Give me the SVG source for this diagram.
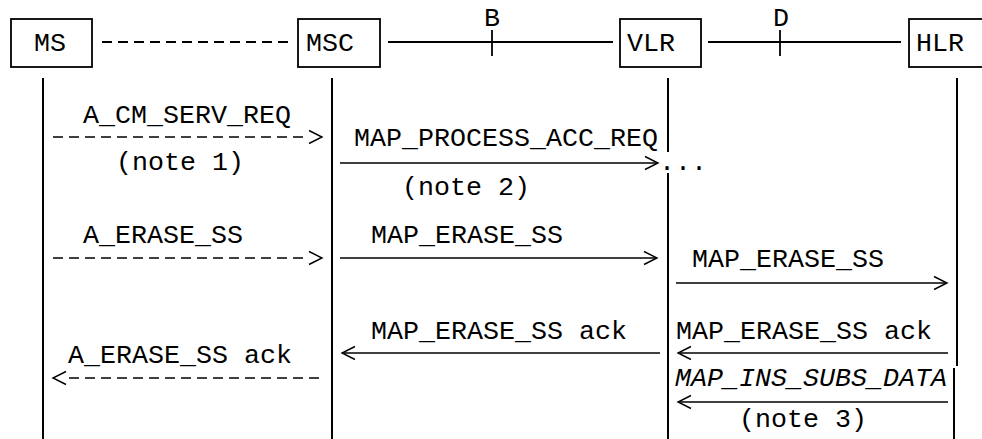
<svg xmlns="http://www.w3.org/2000/svg" width="982" height="439" viewBox="0 0 982 439">
<style>
  .bg { fill: #ffffff; }
  .box { fill: #ffffff; stroke: #000; stroke-width: 1.8; }
  .t { font-family: "Liberation Mono", "Courier New", monospace; font-size: 26.67px; fill: #000; }
  .it { font-style: italic; }
  .mid { text-anchor: middle; }
  .life { stroke: #000; stroke-width: 2; fill: none; }
  .iface { stroke: #000; stroke-width: 1.8; fill: none; }
  .dash { stroke-dasharray: 10 6; }
  .msg { stroke: #000; stroke-width: 1.6; fill: none; }
  .head { stroke: #000; stroke-width: 1.4; fill: none; }
</style>
<rect class="bg" x="0" y="0" width="982" height="439"/>

<g id="lifelines">
  <line class="life" x1="43" y1="78" x2="43" y2="439"/>
  <line class="life" x1="332" y1="78" x2="332" y2="439"/>
  <line class="life" x1="668" y1="78" x2="668" y2="152"/>
  <line class="life" x1="668" y1="173" x2="668" y2="439"/>
  <line class="life" x1="957" y1="78" x2="957" y2="366"/>
  <line class="life" x1="954" y1="368" x2="954" y2="439"/>
</g>

<g id="node-ms">
  <rect class="box" x="11" y="19" width="81" height="48"/>
  <text class="t" x="34" y="51">MS</text>
</g>
<g id="node-msc">
  <rect class="box" x="298" y="19" width="82" height="48"/>
  <text class="t" x="306" y="51">MSC</text>
</g>
<g id="node-vlr">
  <rect class="box" x="620" y="19" width="81" height="48"/>
  <text class="t" x="627" y="51">VLR</text>
</g>
<g id="node-hlr">
  <rect class="box" x="909" y="19" width="90" height="48"/>
  <text class="t" x="916" y="51">HLR</text>
</g>

<g id="interfaces">
  <line class="iface dash" x1="102" y1="42" x2="288" y2="42"/>
  <line class="iface" x1="388" y1="42" x2="613" y2="42"/>
  <line class="iface" x1="492" y1="30" x2="492" y2="56"/>
  <text class="t mid" x="492" y="26">B</text>
  <line class="iface" x1="708" y1="42" x2="901" y2="42"/>
  <line class="iface" x1="780" y1="30" x2="780" y2="56"/>
  <text class="t mid" x="781" y="26">D</text>
</g>

<g id="connectors">
  <!-- A_CM_SERV_REQ -->
  <line class="msg dash" x1="53" y1="137" x2="303" y2="137"/>
  <polyline class="head" points="309,130.5 322,137 309,143.5"/>
  <!-- MAP_PROCESS_ACC_REQ -->
  <line class="msg" x1="340" y1="163" x2="656" y2="163"/>
  <polyline class="head" points="645,156.5 658,163 645,169.5"/>
  <!-- A_ERASE_SS -->
  <line class="msg dash" x1="53" y1="258" x2="303" y2="258"/>
  <polyline class="head" points="309,251.5 322,258 309,264.5"/>
  <!-- MAP_ERASE_SS MSC->VLR -->
  <line class="msg" x1="340" y1="258" x2="655" y2="258"/>
  <polyline class="head" points="644,251.5 657,258 644,264.5"/>
  <!-- MAP_ERASE_SS VLR->HLR -->
  <line class="msg" x1="676" y1="283" x2="945" y2="283"/>
  <polyline class="head" points="934,276.5 947,283 934,289.5"/>
  <!-- MAP_ERASE_SS ack VLR->MSC -->
  <line class="msg" x1="344" y1="353" x2="660" y2="353"/>
  <polyline class="head" points="355,346.5 342,353 355,359.5"/>
  <!-- MAP_ERASE_SS ack HLR->VLR -->
  <line class="msg" x1="680" y1="353" x2="948" y2="353"/>
  <polyline class="head" points="691,346.5 678,353 691,359.5"/>
  <!-- A_ERASE_SS ack -->
  <line class="msg dash" x1="69" y1="378" x2="320" y2="378"/>
  <polyline class="head" points="66,371.5 53,378 66,384.5"/>
  <!-- MAP_INS_SUBS_DATA -->
  <line class="msg" x1="680" y1="402" x2="948" y2="402"/>
  <polyline class="head" points="691,395.5 678,402 691,408.5"/>
</g>

<g id="labels">
  <text class="t" x="83" y="123">A_CM_SERV_REQ</text>
  <text class="t" x="116" y="170">(note 1)</text>
  <text class="t" x="354" y="146">MAP_PROCESS_ACC_REQ</text>
  <text class="t" x="659" y="170">...</text>
  <text class="t" x="402" y="195">(note 2)</text>
  <text class="t" x="83" y="243">A_ERASE_SS</text>
  <text class="t" x="371" y="243">MAP_ERASE_SS</text>
  <text class="t" x="692" y="267">MAP_ERASE_SS</text>
  <text class="t" x="371" y="339">MAP_ERASE_SS ack</text>
  <text class="t" x="676" y="339">MAP_ERASE_SS ack</text>
  <text class="t" x="68" y="363">A_ERASE_SS ack</text>
  <text class="t it" x="675" y="386">MAP_INS_SUBS_DATA</text>
  <text class="t" x="739" y="427">(note 3)</text>
</g>
</svg>
